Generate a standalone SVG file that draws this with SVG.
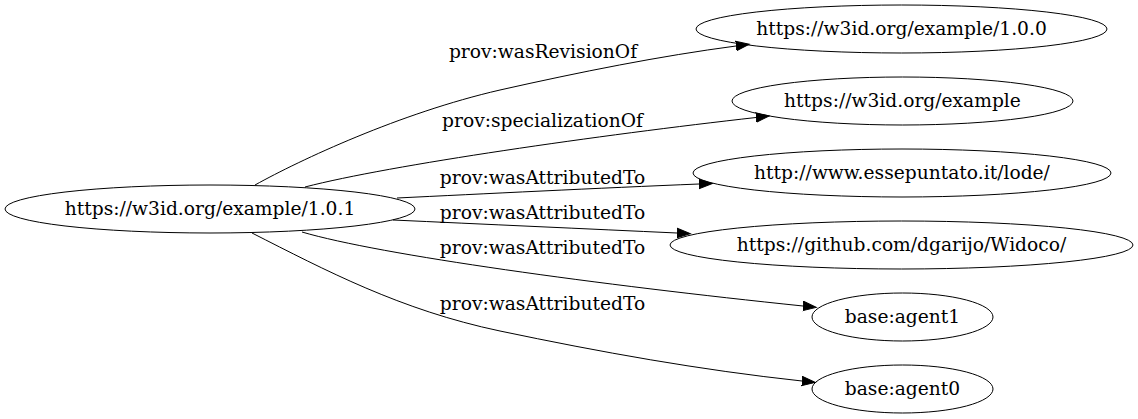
<svg xmlns="http://www.w3.org/2000/svg" width="1138" height="419" viewBox="0 0 1138 419">
<style>
.node ellipse{fill:none;stroke:#000;stroke-width:1}
text{font-family:"DejaVu Serif","Liberation Serif",serif;font-size:18.67px;fill:#000;text-anchor:middle}
.edge path{fill:none;stroke:#000;stroke-width:1}
</style>
<defs>
<marker id="arr" markerUnits="userSpaceOnUse" markerWidth="16" markerHeight="12" refX="0" refY="6" orient="auto" viewBox="0 0 16 12">
<path d="M0,1.3 L13.3,6 L0,10.7 z" fill="#000" stroke="#000" stroke-width="1"/>
</marker>
</defs>
<rect width="1138" height="419" fill="#fff"/>
<g id="edges" class="edge">
<path d="M255,185 C300,160 400,113 500,90 C580,72 660,56 736,46" marker-end="url(#arr)"/>
<text x="543" y="58">prov:wasRevisionOf</text>
<path d="M305,187 C390,165 600,135 756,117.5" marker-end="url(#arr)"/>
<text x="542.5" y="127">prov:specializationOf</text>
<path d="M397,198 C480,194 600,188 699,184" marker-end="url(#arr)"/>
<text x="542.5" y="184">prov:wasAttributedTo</text>
<path d="M393,220 C480,224 590,229 677,233" marker-end="url(#arr)"/>
<text x="542.5" y="219">prov:wasAttributedTo</text>
<path d="M302,232 C380,255 600,285 803,306" marker-end="url(#arr)"/>
<text x="542.5" y="254">prov:wasAttributedTo</text>
<path d="M252,233 C325,270 400,310 500,331 C600,352 700,370 802,381" marker-end="url(#arr)"/>
<text x="542.5" y="310">prov:wasAttributedTo</text>
</g>
<g id="n101" class="node"><ellipse cx="210" cy="209" rx="205" ry="24"/><text x="210" y="214.5">https://w3id.org/example/1.0.1</text></g>
<g id="n100" class="node"><ellipse cx="901.5" cy="29" rx="205.5" ry="24"/><text x="901.5" y="34.5">https://w3id.org/example/1.0.0</text></g>
<g id="nex" class="node"><ellipse cx="902.5" cy="101" rx="170.5" ry="24"/><text x="902.5" y="106.5">https://w3id.org/example</text></g>
<g id="nlode" class="node"><ellipse cx="902" cy="173" rx="209" ry="24"/><text x="902" y="178.5">http://www.essepuntato.it/lode/</text></g>
<g id="nwidoco" class="node"><ellipse cx="901.5" cy="245" rx="231.5" ry="24"/><text x="901.5" y="250.5">https://github.com/dgarijo/Widoco/</text></g>
<g id="nagent1" class="node"><ellipse cx="902.5" cy="317" rx="90.5" ry="24"/><text x="902.5" y="322.5">base:agent1</text></g>
<g id="nagent0" class="node"><ellipse cx="902.5" cy="389" rx="90.5" ry="24"/><text x="902.5" y="394.5">base:agent0</text></g>
</svg>
